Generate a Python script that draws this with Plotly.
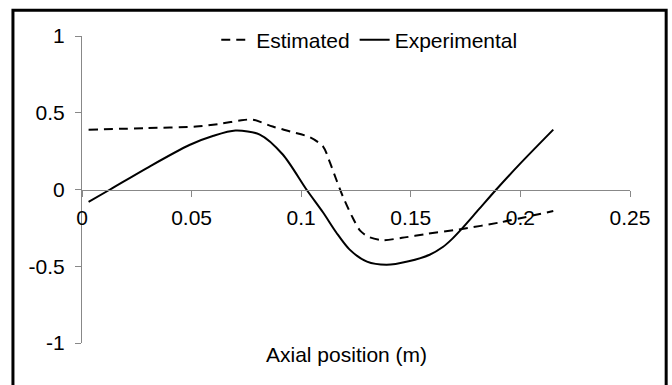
import plotly.graph_objects as go

# Estimated (dashed)
est_x = [0.003, 0.030, 0.052, 0.064, 0.072, 0.078, 0.087, 0.095, 0.104, 0.110, 0.113, 0.116, 0.119, 0.123, 0.127, 0.131, 0.137, 0.146, 0.157, 0.172, 0.1905, 0.215]
est_y = [0.39, 0.40, 0.41, 0.43, 0.45, 0.455, 0.41, 0.378, 0.34, 0.28, 0.18, 0.065, -0.045, -0.17, -0.27, -0.31, -0.33, -0.315, -0.29, -0.26, -0.215, -0.14]

# Experimental (solid)
exp_x = [0.003, 0.0128, 0.0296, 0.049, 0.060, 0.070, 0.0811, 0.0916, 0.1024, 0.110, 0.116, 0.122, 0.130, 0.139, 0.149, 0.1586, 0.1646, 0.169, 0.173, 0.181, 0.189, 0.200, 0.215]
exp_y = [-0.08, 0.0, 0.14, 0.29, 0.35, 0.384, 0.358, 0.228, 0.0, -0.15, -0.28, -0.39, -0.47, -0.49, -0.467, -0.425, -0.375, -0.32, -0.26, -0.13, 0.0, 0.17, 0.39]

x_ticks = [0, 0.05, 0.1, 0.15, 0.2, 0.25]
x_labels = ["0", "0.05", "0.1", "0.15", "0.2", "0.25"]
y_ticks = [-1, -0.5, 0, 0.5, 1]
y_labels = ["-1", "-0.5", "0", "0.5", "1"]

FONT = "Liberation Sans, Arial, sans-serif"

fig = go.Figure()
fig.add_trace(go.Scatter(x=est_x, y=est_y, mode="lines", name="Estimated",
                         line=dict(color="black", width=2, dash="9px,6px", shape="spline", smoothing=0.8)))
fig.add_trace(go.Scatter(x=exp_x, y=exp_y, mode="lines", name="Experimental",
                         line=dict(color="black", width=2, shape="spline", smoothing=0.8)))

fig.update_layout(
    width=672, height=385,
    margin=dict(l=82, r=42, t=36, b=42),
    paper_bgcolor="white", plot_bgcolor="white",
    font=dict(family=FONT, size=21, color="black"),
    showlegend=True,
    legend=dict(orientation="h", x=0.245, y=0.987, xanchor="left", yanchor="middle",
                bgcolor="rgba(0,0,0,0)", font=dict(size=21), itemwidth=30),
    xaxis=dict(range=[0, 0.25], tickvals=x_ticks, ticktext=x_labels,
               showgrid=False, zeroline=False, showline=True, linecolor="#888888", linewidth=1,
               ticks="outside", ticklen=6, tickcolor="#888888", ticklabelstandoff=3,
               anchor="free", position=0.5),
    yaxis=dict(range=[-1, 1], tickvals=y_ticks, ticktext=y_labels,
               showgrid=False, zeroline=False, showline=True, linecolor="#888888", linewidth=1,
               ticks="outside", ticklen=6, tickcolor="#888888", ticklabelstandoff=6),
    annotations=[dict(text="Axial position (m)", x=0.482, y=-0.036, xref="paper", yref="paper",
                      xanchor="center", yanchor="middle", showarrow=False, font=dict(size=21))],
    shapes=[dict(type="rect", xref="paper", yref="paper", x0=-0.126, x1=1.066, y0=-0.2, y1=1.084,
                 line=dict(color="black", width=3), fillcolor="rgba(0,0,0,0)", layer="below")],
)

fig.write_html("out.html")
